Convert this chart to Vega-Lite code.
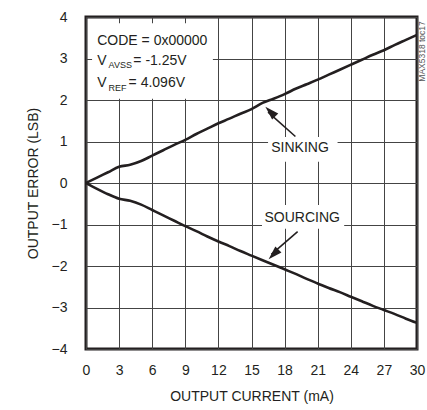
{
  "$schema": "https://vega.github.io/schema/vega-lite/v6.json",
  "width": 331,
  "height": 332,
  "autosize": {"type": "none"},
  "padding": {"left": 86, "top": 17, "right": 10, "bottom": 61},
  "background": "white",
  "config": {
    "font": "Liberation Sans, Arial, sans-serif",
    "view": {"stroke": "#231f20", "strokeWidth": 3},
    "axis": {
      "labelFont": "Liberation Sans, Arial, sans-serif",
      "titleFont": "Liberation Sans, Arial, sans-serif",
      "labelFontSize": 14,
      "titleFontSize": 14,
      "titleFontWeight": "normal",
      "labelColor": "#231f20",
      "titleColor": "#231f20",
      "grid": true,
      "gridColor": "#444444",
      "gridWidth": 1,
      "gridOpacity": 1,
      "domain": false,
      "ticks": false,
      "tickSize": 0
    },
    "text": {"font": "Liberation Sans, Arial, sans-serif", "color": "#231f20"}
  },
  "encoding": {
    "x": {
      "field": "x",
      "type": "quantitative",
      "scale": {"domain": [0, 30], "nice": false, "zero": false},
      "axis": {"title": "OUTPUT CURRENT (mA)", "values": [0, 3, 6, 9, 12, 15, 18, 21, 24, 27, 30], "labelPadding": 14, "titlePadding": 12, "labelFlush": false, "labelOverlap": false}
    },
    "y": {
      "field": "y",
      "type": "quantitative",
      "scale": {"domain": [-4, 4], "nice": false, "zero": false},
      "axis": {"title": "OUTPUT ERROR (LSB)", "values": [-4, -3, -2, -1, 0, 1, 2, 3, 4], "labelPadding": 19, "titlePadding": 11, "labelFlush": false, "labelOverlap": false}
    }
  },
  "layer": [
    {
      "data": {"values": [
        {"x": 0.55, "x2": 11.5, "y": 2.03, "y2": 3.85},
        {"x": 16.5, "x2": 22.8, "y": 0.51, "y2": 1.11},
        {"x": 15.95, "x2": 23.4, "y": -0.53, "y2": -1.1}
      ]},
      "mark": {"type": "rect", "fill": "white", "strokeWidth": 0},
      "encoding": {"x2": {"field": "x2"}, "y2": {"field": "y2"}}
    },
    {
      "data": {"values": [
        {"series": "SINKING", "x": 0, "y": 0}, {"series": "SINKING", "x": 1, "y": 0.13}, {"series": "SINKING", "x": 2, "y": 0.26},
        {"series": "SINKING", "x": 3, "y": 0.39}, {"series": "SINKING", "x": 4, "y": 0.44}, {"series": "SINKING", "x": 5, "y": 0.53},
        {"series": "SINKING", "x": 6, "y": 0.66}, {"series": "SINKING", "x": 7, "y": 0.79}, {"series": "SINKING", "x": 8, "y": 0.92},
        {"series": "SINKING", "x": 9, "y": 1.04}, {"series": "SINKING", "x": 10, "y": 1.18}, {"series": "SINKING", "x": 11, "y": 1.31},
        {"series": "SINKING", "x": 12, "y": 1.44}, {"series": "SINKING", "x": 13, "y": 1.55}, {"series": "SINKING", "x": 14, "y": 1.67},
        {"series": "SINKING", "x": 15, "y": 1.78}, {"series": "SINKING", "x": 16, "y": 1.93}, {"series": "SINKING", "x": 17, "y": 2.03},
        {"series": "SINKING", "x": 18, "y": 2.14}, {"series": "SINKING", "x": 19, "y": 2.27}, {"series": "SINKING", "x": 20, "y": 2.38},
        {"series": "SINKING", "x": 21, "y": 2.49}, {"series": "SINKING", "x": 22, "y": 2.61}, {"series": "SINKING", "x": 23, "y": 2.73},
        {"series": "SINKING", "x": 24, "y": 2.85}, {"series": "SINKING", "x": 25, "y": 2.97}, {"series": "SINKING", "x": 26, "y": 3.09},
        {"series": "SINKING", "x": 27, "y": 3.2}, {"series": "SINKING", "x": 28, "y": 3.33}, {"series": "SINKING", "x": 29, "y": 3.45},
        {"series": "SINKING", "x": 30, "y": 3.57},
        {"series": "SOURCING", "x": 0, "y": 0}, {"series": "SOURCING", "x": 1, "y": -0.14}, {"series": "SOURCING", "x": 2, "y": -0.27},
        {"series": "SOURCING", "x": 3, "y": -0.38}, {"series": "SOURCING", "x": 4, "y": -0.43}, {"series": "SOURCING", "x": 5, "y": -0.52},
        {"series": "SOURCING", "x": 6, "y": -0.65}, {"series": "SOURCING", "x": 7, "y": -0.78}, {"series": "SOURCING", "x": 8, "y": -0.91},
        {"series": "SOURCING", "x": 9, "y": -1.04}, {"series": "SOURCING", "x": 10, "y": -1.16}, {"series": "SOURCING", "x": 11, "y": -1.29},
        {"series": "SOURCING", "x": 12, "y": -1.41}, {"series": "SOURCING", "x": 13, "y": -1.52}, {"series": "SOURCING", "x": 14, "y": -1.64},
        {"series": "SOURCING", "x": 15, "y": -1.75}, {"series": "SOURCING", "x": 16, "y": -1.86}, {"series": "SOURCING", "x": 17, "y": -1.97},
        {"series": "SOURCING", "x": 18, "y": -2.08}, {"series": "SOURCING", "x": 19, "y": -2.19}, {"series": "SOURCING", "x": 20, "y": -2.31},
        {"series": "SOURCING", "x": 21, "y": -2.42}, {"series": "SOURCING", "x": 22, "y": -2.53}, {"series": "SOURCING", "x": 23, "y": -2.63},
        {"series": "SOURCING", "x": 24, "y": -2.74}, {"series": "SOURCING", "x": 25, "y": -2.85}, {"series": "SOURCING", "x": 26, "y": -2.96},
        {"series": "SOURCING", "x": 27, "y": -3.06}, {"series": "SOURCING", "x": 28, "y": -3.16}, {"series": "SOURCING", "x": 29, "y": -3.27},
        {"series": "SOURCING", "x": 30, "y": -3.37}
      ]},
      "mark": {"type": "line", "color": "#231f20", "strokeWidth": 2.6, "interpolate": "monotone", "clip": true},
      "encoding": {"detail": {"field": "series"}}
    },
    {
      "data": {"values": [
        {"x": 18.98, "y": 1.12, "x2": 16.5, "y2": 1.71},
        {"x": 19.18, "y": -1.17, "x2": 16.8, "y2": -1.72}
      ]},
      "mark": {"type": "rule", "color": "#231f20", "strokeWidth": 1.6},
      "encoding": {"x2": {"field": "x2"}, "y2": {"field": "y2"}}
    },
    {
      "data": {"values": [{"x": 16.26, "y": 1.84}]},
      "mark": {"type": "point", "shape": "M0,0L0.5,1.6L-0.5,1.6Z", "size": 300, "filled": true, "color": "#231f20", "opacity": 1, "angle": 315}
    },
    {
      "data": {"values": [{"x": 16.55, "y": -1.84}]},
      "mark": {"type": "point", "shape": "M0,0L0.5,1.6L-0.5,1.6Z", "size": 300, "filled": true, "color": "#231f20", "opacity": 1, "angle": 225}
    },
    {
      "data": {"values": [
        {"x": 1.02, "y": 3.33, "text": "CODE = 0x00000"},
        {"x": 1.02, "y": 2.84, "text": "V"},
        {"x": 4.29, "y": 2.84, "text": "= -1.25V"},
        {"x": 1.02, "y": 2.31, "text": "V"},
        {"x": 3.86, "y": 2.31, "text": "= 4.096V"}
      ]},
      "mark": {"type": "text", "align": "left", "baseline": "alphabetic", "fontSize": 14},
      "encoding": {"text": {"field": "text"}}
    },
    {
      "data": {"values": [
        {"x": 2.05, "y": 2.76, "text": "AVSS"},
        {"x": 2.05, "y": 2.22, "text": "REF"}
      ]},
      "mark": {"type": "text", "align": "left", "baseline": "alphabetic", "fontSize": 9},
      "encoding": {"text": {"field": "text"}}
    },
    {
      "data": {"values": [
        {"x": 19.4, "y": 0.84, "text": "SINKING"},
        {"x": 19.6, "y": -0.85, "text": "SOURCING"}
      ]},
      "mark": {"type": "text", "align": "center", "baseline": "middle", "fontSize": 14},
      "encoding": {"text": {"field": "text"}}
    },
    {
      "data": {"values": [{"x": 30.46, "y": 3.17, "text": "MAX5318 toc17"}]},
      "mark": {"type": "text", "align": "center", "baseline": "middle", "fontSize": 8.5, "angle": 270, "color": "#555555"},
      "encoding": {"text": {"field": "text"}}
    }
  ]
}
